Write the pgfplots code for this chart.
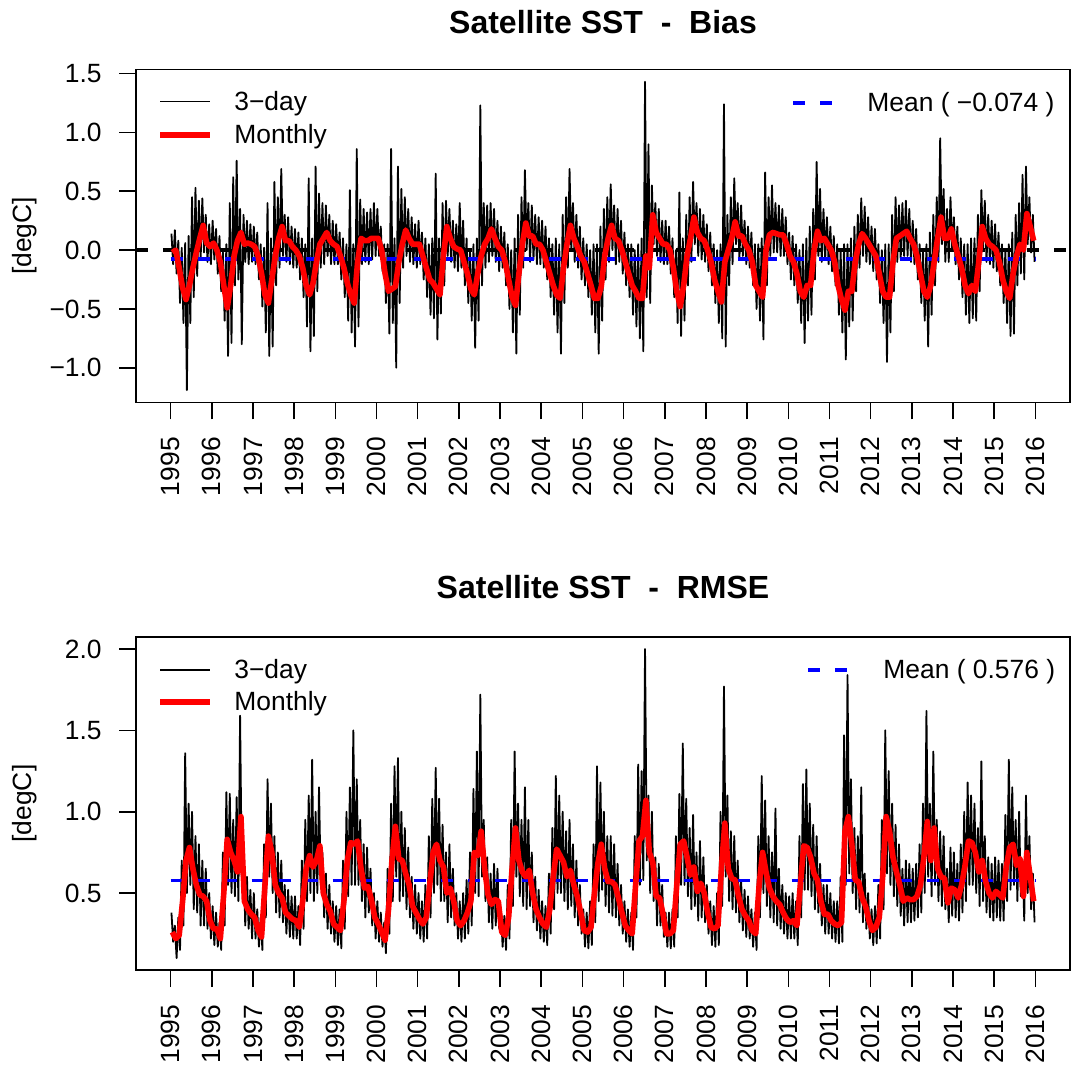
\documentclass[border=0pt]{standalone}
\usepackage{fontspec}
\setmainfont{Liberation Sans}
\usepackage{pgfplots}
\usepackage{pgfplotstable}
\pgfplotsset{compat=1.18}
\newcommand\tf{\fontsize{13.2}{15.8}\selectfont}

% Bias, 3-day (two values per month: high, low)
\pgfplotstableread[row sep=\\]{y\\
0.14\\ -0.12\\ 0.17\\ -0.20\\ 0.08\\ -0.45\\ 0.02\\ -0.62\\ 0.06\\ -1.19\\ 0.12\\ -0.62\\ 0.45\\ -0.40\\ 0.53\\ -0.22\\ 0.42\\ -0.08\\ 0.44\\ -0.02\\ 0.30\\ -0.10\\ 0.22\\ -0.12\\
0.25\\ -0.08\\ 0.18\\ -0.20\\ 0.12\\ -0.35\\ -0.02\\ -0.60\\ 0.05\\ -0.90\\ 0.40\\ -0.79\\ 0.62\\ -0.30\\ 0.76\\ -0.25\\ 0.35\\ -0.80\\ 0.30\\ -0.10\\ 0.25\\ -0.12\\ 0.22\\ -0.10\\
0.20\\ -0.12\\ 0.15\\ -0.25\\ 0.05\\ -0.48\\ 0.02\\ -0.70\\ 0.40\\ -0.90\\ 0.10\\ -0.82\\ 0.58\\ -0.30\\ 0.45\\ -0.15\\ 0.69\\ -0.05\\ 0.30\\ -0.10\\ 0.28\\ -0.12\\ 0.20\\ -0.15\\
0.18\\ -0.15\\ 0.15\\ -0.25\\ 0.10\\ -0.40\\ 0.05\\ -0.65\\ 0.61\\ -0.86\\ 0.10\\ -0.73\\ 0.71\\ -0.35\\ 0.48\\ -0.15\\ 0.40\\ -0.12\\ 0.38\\ -0.05\\ 0.30\\ -0.12\\ 0.25\\ -0.12\\
0.22\\ -0.12\\ 0.15\\ -0.25\\ 0.10\\ -0.40\\ 0.05\\ -0.60\\ 0.51\\ -0.70\\ 0.05\\ -0.82\\ 0.86\\ -0.65\\ 0.43\\ -0.12\\ 0.35\\ -0.10\\ 0.32\\ -0.12\\ 0.35\\ -0.08\\ 0.40\\ -0.05\\
0.35\\ -0.05\\ 0.20\\ -0.18\\ 0.05\\ -0.45\\ 0.05\\ -0.71\\ 0.86\\ -0.62\\ 0.10\\ -1.00\\ 0.71\\ -0.45\\ 0.52\\ -0.15\\ 0.45\\ -0.05\\ 0.35\\ -0.10\\ 0.28\\ -0.12\\ 0.22\\ -0.15\\
0.25\\ -0.12\\ 0.15\\ -0.25\\ 0.10\\ -0.40\\ 0.05\\ -0.55\\ 0.10\\ -0.58\\ 0.65\\ -0.76\\ 0.10\\ -0.54\\ 0.40\\ -0.30\\ 0.42\\ -0.05\\ 0.35\\ -0.10\\ 0.25\\ -0.15\\ 0.22\\ -0.18\\
0.40\\ -0.15\\ 0.25\\ -0.30\\ 0.10\\ -0.45\\ 0.00\\ -0.60\\ 0.05\\ -0.83\\ 0.10\\ -0.60\\ 1.23\\ -0.30\\ 0.40\\ -0.15\\ 0.38\\ -0.10\\ 0.40\\ -0.05\\ 0.35\\ -0.10\\ 0.25\\ -0.18\\
0.20\\ -0.15\\ 0.15\\ -0.30\\ 0.05\\ -0.50\\ 0.00\\ -0.70\\ 0.10\\ -0.88\\ 0.30\\ -0.55\\ 0.45\\ -0.15\\ 0.68\\ 0.00\\ 0.40\\ -0.10\\ 0.38\\ -0.08\\ 0.30\\ -0.12\\ 0.28\\ -0.12\\
0.25\\ -0.15\\ 0.20\\ -0.25\\ 0.10\\ -0.40\\ 0.05\\ -0.55\\ 0.10\\ -0.70\\ 0.05\\ -0.88\\ 0.30\\ -0.45\\ 0.45\\ -0.15\\ 0.69\\ 0.00\\ 0.40\\ -0.10\\ 0.30\\ -0.15\\ 0.20\\ -0.25\\
0.10\\ -0.30\\ 0.05\\ -0.40\\ 0.00\\ -0.55\\ 0.05\\ -0.70\\ 0.05\\ -0.88\\ 0.20\\ -0.60\\ 0.35\\ -0.25\\ 0.45\\ -0.10\\ 0.56\\ 0.00\\ 0.38\\ -0.12\\ 0.35\\ -0.10\\ 0.25\\ -0.20\\
0.15\\ -0.30\\ 0.05\\ -0.40\\ 0.05\\ -0.55\\ 0.00\\ -0.65\\ 0.05\\ -0.75\\ 0.10\\ -0.86\\ 1.43\\ -0.40\\ 0.90\\ -0.45\\ 0.55\\ 0.05\\ 0.40\\ -0.05\\ 0.35\\ -0.10\\ 0.25\\ -0.12\\
0.25\\ -0.12\\ 0.20\\ -0.20\\ 0.10\\ -0.40\\ 0.00\\ -0.62\\ 0.49\\ -0.73\\ 0.10\\ -0.60\\ 0.30\\ -0.30\\ 0.45\\ -0.10\\ 0.58\\ 0.05\\ 0.40\\ -0.05\\ 0.35\\ -0.08\\ 0.30\\ -0.10\\
0.22\\ -0.18\\ 0.15\\ -0.30\\ 0.05\\ -0.45\\ 0.00\\ -0.62\\ 0.05\\ -0.75\\ 1.24\\ -0.82\\ 0.30\\ -0.30\\ 0.45\\ -0.12\\ 0.61\\ 0.05\\ 0.40\\ -0.08\\ 0.38\\ -0.05\\ 0.25\\ -0.12\\
0.20\\ -0.15\\ 0.15\\ -0.30\\ 0.05\\ -0.50\\ 0.05\\ -0.60\\ 0.10\\ -0.76\\ 0.66\\ -0.30\\ 0.45\\ -0.05\\ 0.55\\ -0.02\\ 0.40\\ -0.02\\ 0.38\\ -0.05\\ 0.35\\ -0.05\\ 0.28\\ -0.12\\
0.15\\ -0.25\\ 0.12\\ -0.30\\ 0.05\\ -0.45\\ 0.00\\ -0.62\\ 0.05\\ -0.79\\ 0.10\\ -0.60\\ 0.20\\ -0.55\\ 0.35\\ -0.25\\ 0.75\\ -0.05\\ 0.52\\ -0.10\\ 0.35\\ -0.08\\ 0.28\\ -0.12\\
0.20\\ -0.18\\ 0.12\\ -0.30\\ 0.05\\ -0.55\\ 0.00\\ -0.70\\ 0.05\\ -0.93\\ 0.05\\ -0.65\\ 0.10\\ -0.60\\ 0.20\\ -0.35\\ 0.30\\ -0.15\\ 0.44\\ -0.05\\ 0.37\\ -0.10\\ 0.28\\ -0.12\\
0.20\\ -0.18\\ 0.18\\ -0.25\\ 0.05\\ -0.45\\ 0.00\\ -0.62\\ 0.05\\ -0.95\\ 0.05\\ -0.70\\ 0.30\\ -0.35\\ 0.45\\ -0.10\\ 0.38\\ -0.08\\ 0.40\\ -0.05\\ 0.42\\ -0.05\\ 0.35\\ -0.10\\
0.25\\ -0.12\\ 0.18\\ -0.25\\ 0.05\\ -0.45\\ 0.00\\ -0.60\\ 0.05\\ -0.82\\ 0.15\\ -0.55\\ 0.30\\ -0.30\\ 0.45\\ -0.10\\ 0.95\\ 0.05\\ 0.52\\ -0.10\\ 0.35\\ -0.10\\ 0.45\\ 0.00\\
0.28\\ -0.12\\ 0.20\\ -0.25\\ 0.10\\ -0.40\\ 0.05\\ -0.55\\ 0.05\\ -0.62\\ 0.10\\ -0.58\\ 0.10\\ -0.60\\ 0.30\\ -0.35\\ 0.51\\ 0.00\\ 0.42\\ -0.10\\ 0.30\\ -0.12\\ 0.25\\ -0.15\\
0.22\\ -0.18\\ 0.15\\ -0.30\\ 0.05\\ -0.45\\ 0.00\\ -0.62\\ 0.05\\ -0.73\\ 0.15\\ -0.71\\ 0.30\\ -0.30\\ 0.40\\ -0.20\\ 0.64\\ -0.25\\ 0.71\\ 0.05\\ 0.45\\ -0.02\\ 0.30\\ -0.10\\
}\biasday

% Bias, monthly
\pgfplotstableread[row sep=\\]{y\\
-0.02\\ 0.00\\ -0.15\\ -0.32\\ -0.42\\ -0.30\\ -0.15\\ -0.02\\ 0.10\\ 0.21\\ 0.06\\ 0.03\\
0.06\\ 0.00\\ -0.10\\ -0.30\\ -0.49\\ -0.30\\ -0.05\\ 0.08\\ 0.15\\ 0.05\\ 0.06\\ 0.05\\
0.03\\ -0.05\\ -0.20\\ -0.38\\ -0.45\\ -0.25\\ -0.05\\ 0.10\\ 0.20\\ 0.08\\ 0.08\\ 0.03\\
0.00\\ -0.05\\ -0.15\\ -0.30\\ -0.38\\ -0.28\\ -0.10\\ 0.05\\ 0.10\\ 0.15\\ 0.08\\ 0.05\\
0.03\\ -0.05\\ -0.15\\ -0.28\\ -0.38\\ -0.45\\ -0.10\\ 0.10\\ 0.08\\ 0.08\\ 0.10\\ 0.10\\
0.10\\ 0.00\\ -0.20\\ -0.35\\ -0.33\\ -0.31\\ -0.10\\ 0.05\\ 0.17\\ 0.10\\ 0.05\\ 0.05\\
0.05\\ -0.05\\ -0.15\\ -0.25\\ -0.28\\ -0.33\\ -0.38\\ -0.05\\ 0.20\\ 0.10\\ 0.03\\ 0.01\\
0.00\\ -0.10\\ -0.20\\ -0.33\\ -0.38\\ -0.20\\ -0.05\\ 0.05\\ 0.10\\ 0.18\\ 0.10\\ 0.03\\
0.00\\ -0.10\\ -0.25\\ -0.40\\ -0.47\\ -0.20\\ 0.05\\ 0.23\\ 0.12\\ 0.12\\ 0.05\\ 0.05\\
0.00\\ -0.10\\ -0.20\\ -0.30\\ -0.38\\ -0.41\\ -0.15\\ 0.05\\ 0.21\\ 0.10\\ 0.03\\ -0.05\\
-0.10\\ -0.20\\ -0.30\\ -0.41\\ -0.41\\ -0.31\\ -0.05\\ 0.10\\ 0.21\\ 0.10\\ 0.08\\ 0.00\\
-0.10\\ -0.20\\ -0.30\\ -0.35\\ -0.41\\ -0.41\\ -0.05\\ -0.15\\ 0.30\\ 0.15\\ 0.10\\ 0.05\\
0.05\\ 0.00\\ -0.15\\ -0.35\\ -0.48\\ -0.30\\ -0.05\\ 0.10\\ 0.28\\ 0.15\\ 0.10\\ 0.08\\
0.00\\ -0.10\\ -0.25\\ -0.35\\ -0.44\\ -0.10\\ 0.00\\ 0.10\\ 0.24\\ 0.12\\ 0.12\\ 0.05\\
0.00\\ -0.10\\ -0.30\\ -0.35\\ -0.40\\ 0.00\\ 0.13\\ 0.15\\ 0.14\\ 0.13\\ 0.13\\ 0.05\\
-0.05\\ -0.10\\ -0.20\\ -0.35\\ -0.40\\ -0.30\\ -0.30\\ 0.00\\ 0.16\\ 0.08\\ 0.10\\ 0.05\\
0.00\\ -0.10\\ -0.30\\ -0.42\\ -0.51\\ -0.35\\ -0.35\\ -0.10\\ 0.05\\ 0.14\\ 0.10\\ 0.05\\
0.00\\ -0.05\\ -0.20\\ -0.35\\ -0.40\\ -0.40\\ -0.10\\ 0.10\\ 0.12\\ 0.14\\ 0.16\\ 0.10\\
0.05\\ -0.05\\ -0.20\\ -0.35\\ -0.40\\ -0.30\\ -0.10\\ 0.10\\ 0.28\\ 0.10\\ 0.10\\ 0.18\\
0.05\\ -0.05\\ -0.15\\ -0.30\\ -0.37\\ -0.30\\ -0.35\\ -0.10\\ 0.20\\ 0.10\\ 0.05\\ 0.03\\
0.00\\ -0.10\\ -0.25\\ -0.35\\ -0.41\\ -0.20\\ -0.05\\ 0.05\\ 0.00\\ 0.31\\ 0.20\\ 0.08\\
}\biasmon

% RMSE, 3-day (two values per month: high, low)
\pgfplotstableread[row sep=\\]{y\\
0.38\\ 0.20\\ 0.30\\ 0.10\\ 0.35\\ 0.15\\ 0.70\\ 0.30\\ 1.36\\ 0.50\\ 1.05\\ 0.55\\ 1.00\\ 0.40\\ 0.85\\ 0.38\\ 0.80\\ 0.30\\ 0.70\\ 0.30\\ 0.65\\ 0.28\\ 0.50\\ 0.22\\
0.42\\ 0.18\\ 0.38\\ 0.17\\ 0.32\\ 0.15\\ 0.75\\ 0.30\\ 1.12\\ 0.55\\ 1.11\\ 0.50\\ 0.95\\ 0.48\\ 1.09\\ 0.45\\ 1.59\\ 0.60\\ 0.75\\ 0.30\\ 0.60\\ 0.28\\ 0.52\\ 0.22\\
0.50\\ 0.22\\ 0.40\\ 0.17\\ 0.35\\ 0.15\\ 0.80\\ 0.35\\ 1.20\\ 0.60\\ 1.05\\ 0.50\\ 0.85\\ 0.38\\ 0.75\\ 0.35\\ 0.70\\ 0.32\\ 0.55\\ 0.25\\ 0.52\\ 0.23\\ 0.48\\ 0.22\\
0.48\\ 0.22\\ 0.42\\ 0.18\\ 0.70\\ 0.28\\ 0.95\\ 0.45\\ 1.10\\ 0.50\\ 1.32\\ 0.45\\ 1.00\\ 0.50\\ 1.15\\ 0.55\\ 0.75\\ 0.35\\ 0.62\\ 0.28\\ 0.55\\ 0.25\\ 0.45\\ 0.20\\
0.42\\ 0.18\\ 0.40\\ 0.16\\ 0.70\\ 0.28\\ 1.00\\ 0.48\\ 1.15\\ 0.55\\ 1.50\\ 0.55\\ 1.20\\ 0.55\\ 0.95\\ 0.45\\ 0.80\\ 0.35\\ 0.78\\ 0.38\\ 0.65\\ 0.30\\ 0.50\\ 0.22\\
0.45\\ 0.20\\ 0.38\\ 0.17\\ 0.32\\ 0.13\\ 0.65\\ 0.25\\ 1.05\\ 0.45\\ 1.28\\ 0.60\\ 1.33\\ 0.45\\ 1.00\\ 0.48\\ 0.90\\ 0.40\\ 0.78\\ 0.35\\ 0.60\\ 0.28\\ 0.55\\ 0.25\\
0.50\\ 0.22\\ 0.45\\ 0.20\\ 0.55\\ 0.22\\ 0.85\\ 0.35\\ 1.08\\ 0.50\\ 1.27\\ 0.55\\ 1.08\\ 0.45\\ 0.92\\ 0.45\\ 0.75\\ 0.32\\ 0.80\\ 0.35\\ 0.65\\ 0.30\\ 0.50\\ 0.22\\
0.45\\ 0.20\\ 0.50\\ 0.22\\ 0.58\\ 0.25\\ 0.75\\ 0.30\\ 1.14\\ 0.50\\ 1.37\\ 0.48\\ 1.72\\ 0.60\\ 0.95\\ 0.45\\ 0.72\\ 0.32\\ 0.62\\ 0.28\\ 0.68\\ 0.30\\ 0.65\\ 0.28\\
0.40\\ 0.17\\ 0.36\\ 0.15\\ 0.55\\ 0.22\\ 0.95\\ 0.42\\ 1.37\\ 0.60\\ 1.05\\ 0.48\\ 0.95\\ 0.42\\ 1.15\\ 0.40\\ 0.95\\ 0.42\\ 0.75\\ 0.32\\ 0.60\\ 0.27\\ 0.52\\ 0.22\\
0.45\\ 0.20\\ 0.42\\ 0.18\\ 0.62\\ 0.25\\ 0.90\\ 0.40\\ 1.22\\ 0.50\\ 1.10\\ 0.50\\ 1.00\\ 0.45\\ 0.88\\ 0.40\\ 0.95\\ 0.42\\ 0.80\\ 0.35\\ 0.70\\ 0.30\\ 0.55\\ 0.25\\
0.40\\ 0.17\\ 0.38\\ 0.16\\ 0.45\\ 0.18\\ 0.80\\ 0.32\\ 1.28\\ 0.45\\ 1.18\\ 0.52\\ 1.00\\ 0.42\\ 0.85\\ 0.38\\ 0.85\\ 0.36\\ 0.80\\ 0.35\\ 0.68\\ 0.30\\ 0.55\\ 0.25\\
0.45\\ 0.20\\ 0.40\\ 0.17\\ 0.38\\ 0.15\\ 0.85\\ 0.35\\ 1.29\\ 0.55\\ 1.25\\ 0.58\\ 2.00\\ 0.70\\ 1.10\\ 0.50\\ 1.00\\ 0.45\\ 0.72\\ 0.30\\ 0.68\\ 0.30\\ 0.55\\ 0.23\\
0.38\\ 0.17\\ 0.38\\ 0.16\\ 0.40\\ 0.17\\ 0.85\\ 0.35\\ 1.11\\ 0.55\\ 1.42\\ 0.55\\ 1.08\\ 0.48\\ 0.90\\ 0.40\\ 0.98\\ 0.42\\ 0.75\\ 0.33\\ 0.82\\ 0.35\\ 0.72\\ 0.32\\
0.55\\ 0.25\\ 0.45\\ 0.18\\ 0.42\\ 0.17\\ 0.50\\ 0.18\\ 1.00\\ 0.42\\ 1.77\\ 0.60\\ 1.10\\ 0.45\\ 0.88\\ 0.40\\ 0.85\\ 0.38\\ 0.70\\ 0.32\\ 0.58\\ 0.27\\ 0.52\\ 0.23\\
0.48\\ 0.22\\ 0.40\\ 0.17\\ 0.38\\ 0.15\\ 0.85\\ 0.35\\ 1.22\\ 0.50\\ 1.07\\ 0.42\\ 0.85\\ 0.35\\ 0.75\\ 0.32\\ 1.02\\ 0.30\\ 0.65\\ 0.28\\ 0.55\\ 0.25\\ 0.50\\ 0.22\\
0.48\\ 0.22\\ 0.50\\ 0.22\\ 0.45\\ 0.18\\ 0.85\\ 0.35\\ 1.17\\ 0.52\\ 1.26\\ 0.52\\ 1.05\\ 0.48\\ 0.92\\ 0.40\\ 0.85\\ 0.38\\ 0.68\\ 0.30\\ 0.55\\ 0.25\\ 0.55\\ 0.25\\
0.50\\ 0.22\\ 0.45\\ 0.20\\ 0.45\\ 0.19\\ 0.60\\ 0.20\\ 1.47\\ 0.55\\ 1.84\\ 0.62\\ 1.20\\ 0.50\\ 0.90\\ 0.40\\ 0.85\\ 0.38\\ 1.15\\ 0.32\\ 0.62\\ 0.28\\ 0.50\\ 0.22\\
0.40\\ 0.18\\ 0.42\\ 0.19\\ 0.55\\ 0.22\\ 0.95\\ 0.40\\ 1.50\\ 0.62\\ 1.25\\ 0.55\\ 1.05\\ 0.48\\ 0.92\\ 0.42\\ 0.80\\ 0.36\\ 0.65\\ 0.30\\ 0.70\\ 0.32\\ 0.68\\ 0.32\\
0.65\\ 0.33\\ 0.68\\ 0.35\\ 0.80\\ 0.38\\ 1.05\\ 0.50\\ 1.62\\ 0.60\\ 1.05\\ 0.48\\ 1.37\\ 0.55\\ 0.95\\ 0.45\\ 0.88\\ 0.42\\ 0.85\\ 0.40\\ 0.65\\ 0.32\\ 0.78\\ 0.36\\
0.75\\ 0.35\\ 0.68\\ 0.33\\ 0.80\\ 0.38\\ 1.00\\ 0.45\\ 1.18\\ 0.55\\ 1.10\\ 0.55\\ 1.05\\ 0.50\\ 0.90\\ 0.42\\ 1.31\\ 0.45\\ 0.85\\ 0.38\\ 0.72\\ 0.35\\ 0.68\\ 0.33\\
0.72\\ 0.35\\ 0.70\\ 0.33\\ 0.68\\ 0.33\\ 0.98\\ 0.45\\ 1.32\\ 0.52\\ 1.15\\ 0.55\\ 0.95\\ 0.45\\ 1.00\\ 0.48\\ 0.70\\ 0.33\\ 1.10\\ 0.50\\ 0.85\\ 0.40\\ 0.62\\ 0.32\\
}\rmseday

% RMSE, monthly
\pgfplotstableread[row sep=\\]{y\\
0.26\\ 0.22\\ 0.24\\ 0.45\\ 0.70\\ 0.78\\ 0.65\\ 0.55\\ 0.49\\ 0.48\\ 0.45\\ 0.33\\
0.28\\ 0.28\\ 0.22\\ 0.50\\ 0.83\\ 0.75\\ 0.70\\ 0.63\\ 0.97\\ 0.45\\ 0.40\\ 0.37\\
0.35\\ 0.27\\ 0.23\\ 0.55\\ 0.85\\ 0.75\\ 0.55\\ 0.50\\ 0.47\\ 0.38\\ 0.36\\ 0.34\\
0.33\\ 0.29\\ 0.45\\ 0.65\\ 0.73\\ 0.66\\ 0.70\\ 0.79\\ 0.50\\ 0.43\\ 0.39\\ 0.31\\
0.29\\ 0.27\\ 0.45\\ 0.70\\ 0.81\\ 0.80\\ 0.82\\ 0.65\\ 0.53\\ 0.54\\ 0.46\\ 0.35\\
0.31\\ 0.26\\ 0.21\\ 0.40\\ 0.70\\ 0.91\\ 0.71\\ 0.70\\ 0.62\\ 0.55\\ 0.42\\ 0.38\\
0.34\\ 0.31\\ 0.35\\ 0.55\\ 0.75\\ 0.80\\ 0.70\\ 0.66\\ 0.50\\ 0.53\\ 0.45\\ 0.33\\
0.30\\ 0.33\\ 0.38\\ 0.45\\ 0.75\\ 0.73\\ 0.88\\ 0.65\\ 0.49\\ 0.43\\ 0.46\\ 0.45\\
0.26\\ 0.24\\ 0.35\\ 0.65\\ 0.90\\ 0.70\\ 0.63\\ 0.60\\ 0.64\\ 0.50\\ 0.40\\ 0.35\\
0.31\\ 0.29\\ 0.40\\ 0.60\\ 0.77\\ 0.73\\ 0.69\\ 0.60\\ 0.64\\ 0.55\\ 0.48\\ 0.38\\
0.27\\ 0.26\\ 0.29\\ 0.50\\ 0.68\\ 0.80\\ 0.65\\ 0.57\\ 0.57\\ 0.55\\ 0.47\\ 0.38\\
0.30\\ 0.27\\ 0.25\\ 0.55\\ 0.82\\ 0.85\\ 1.07\\ 0.75\\ 0.69\\ 0.48\\ 0.47\\ 0.37\\
0.25\\ 0.25\\ 0.27\\ 0.55\\ 0.80\\ 0.82\\ 0.72\\ 0.61\\ 0.66\\ 0.51\\ 0.56\\ 0.50\\
0.38\\ 0.29\\ 0.28\\ 0.30\\ 0.65\\ 0.93\\ 0.65\\ 0.59\\ 0.58\\ 0.48\\ 0.40\\ 0.36\\
0.33\\ 0.27\\ 0.25\\ 0.55\\ 0.75\\ 0.63\\ 0.53\\ 0.48\\ 0.45\\ 0.43\\ 0.38\\ 0.34\\
0.32\\ 0.33\\ 0.30\\ 0.55\\ 0.79\\ 0.78\\ 0.72\\ 0.62\\ 0.58\\ 0.45\\ 0.37\\ 0.37\\
0.33\\ 0.31\\ 0.30\\ 0.32\\ 0.88\\ 0.97\\ 0.80\\ 0.58\\ 0.57\\ 0.47\\ 0.42\\ 0.33\\
0.27\\ 0.29\\ 0.35\\ 0.60\\ 0.97\\ 0.88\\ 0.72\\ 0.63\\ 0.55\\ 0.45\\ 0.47\\ 0.46\\
0.46\\ 0.48\\ 0.55\\ 0.72\\ 0.94\\ 0.70\\ 0.90\\ 0.65\\ 0.60\\ 0.59\\ 0.44\\ 0.53\\
0.52\\ 0.47\\ 0.55\\ 0.67\\ 0.82\\ 0.81\\ 0.75\\ 0.63\\ 0.70\\ 0.57\\ 0.50\\ 0.47\\
0.51\\ 0.49\\ 0.47\\ 0.66\\ 0.78\\ 0.80\\ 0.67\\ 0.71\\ 0.48\\ 0.75\\ 0.60\\ 0.45\\
}\rmsemon

\pgfplotsset{
  panel/.style={
    scale only axis, width=467pt, height=166.5pt,
    xmin=1994.16, xmax=2016.84,
    axis line style={line width=0.8pt},
    every tick/.style={black, line width=0.8pt},
    tick align=outside, major tick length=8.5pt,
    xtick pos=bottom, ytick pos=left,
    xtick={1995,1996,1997,1998,1999,2000,2001,2002,2003,2004,2005,2006,2007,2008,2009,2010,2011,2012,2013,2014,2015,2016},
    xticklabels={1995,1996,1997,1998,1999,2000,2001,2002,2003,2004,2005,2006,2007,2008,2009,2010,2011,2012,2013,2014,2015,2016},
    xticklabel style={rotate=90, anchor=east, inner sep=0pt, font=\tf},
    yticklabel style={anchor=east, inner sep=0pt, font=\tf},
    xticklabel shift=8.7pt, yticklabel shift=8.5pt,
  },
  day/.style={black, line width=0.9pt, line join=round},
  mon/.style={red, line width=2.8pt, line join=round},
  meanl/.style={blue, line width=1.8pt, dash pattern=on 6.2pt off 7.3pt},
}

\begin{document}
\begin{tikzpicture}
% ---------------- Bias ----------------
\begin{axis}[panel, name=top, at={(0,0)}, anchor=north west,
  ymin=-1.295, ymax=1.535,
  ytick={-1,-0.5,0,0.5,1,1.5},
  yticklabels={−1.0,−0.5,0.0,0.5,1.0,1.5}]
\addplot[black, line width=1.8pt, dash pattern=on 6.2pt off 7.3pt] coordinates {(1994.16,0) (2016.84,0)};
\addplot[day] table[x expr={1995+(\coordindex+0.5)/24}, y=y] {\biasday};
\addplot[meanl] coordinates {(1995,-0.074) (2016,-0.074)};
\addplot[mon] table[x expr={1995+(\coordindex+0.5)/12}, y=y] {\biasmon};
\end{axis}
\node[font=\bfseries\fontsize{16}{19}\selectfont] at ([yshift=23.5pt]top.north) {Satellite SST\ \ -\ \ Bias};
\node[font=\tf, rotate=90] at ([xshift=-55.5pt]top.west) {[degC]};
\draw[black, line width=0.7pt] ([shift={(12pt,-16.1pt)}]top.north west) -- ++(25pt,0);
\node[font=\tf, anchor=west, inner sep=0pt] at ([shift={(49pt,-17pt)}]top.north west) {3−day};
\draw[red, line width=2.8pt] ([shift={(12pt,-32.75pt)}]top.north west) -- ++(25pt,0);
\node[font=\tf, anchor=west, inner sep=0pt] at ([shift={(49pt,-33.6pt)}]top.north west) {Monthly};
\draw[blue, line width=1.8pt, dash pattern=on 6pt off 7.5pt] ([shift={(328.5pt,-16.75pt)}]top.north west) -- ++(19.5pt,0);
\node[font=\tf, anchor=west, inner sep=0pt] at ([shift={(365.5pt,-17.5pt)}]top.north west) {Mean ( −0.074 )};

% ---------------- RMSE ----------------
\begin{axis}[panel, name=bot, at={(0,-283.75pt)}, anchor=north west,
  ymin=0.027, ymax=2.074,
  ytick={0.5,1,1.5,2},
  yticklabels={0.5,1.0,1.5,2.0}]
\addplot[day] table[x expr={1995+(\coordindex+0.5)/24}, y=y] {\rmseday};
\addplot[meanl] coordinates {(1995,0.576) (2016,0.576)};
\addplot[mon] table[x expr={1995+(\coordindex+0.5)/12}, y=y] {\rmsemon};
\end{axis}
\node[font=\bfseries\fontsize{16}{19}\selectfont] at ([yshift=25pt]bot.north) {Satellite SST\ \ -\ \ RMSE};
\node[font=\tf, rotate=90] at ([xshift=-55.5pt]bot.west) {[degC]};
\draw[black, line width=0.7pt] ([shift={(12pt,-16.5pt)}]bot.north west) -- ++(25pt,0);
\node[font=\tf, anchor=west, inner sep=0pt] at ([shift={(49pt,-17.3pt)}]bot.north west) {3−day};
\draw[red, line width=2.8pt] ([shift={(12pt,-32.5pt)}]bot.north west) -- ++(25pt,0);
\node[font=\tf, anchor=west, inner sep=0pt] at ([shift={(49pt,-33.3pt)}]bot.north west) {Monthly};
\draw[blue, line width=1.8pt, dash pattern=on 6pt off 7.5pt] ([shift={(336pt,-16.5pt)}]bot.north west) -- ++(19.5pt,0);
\node[font=\tf, anchor=west, inner sep=0pt] at ([shift={(373.5pt,-17.3pt)}]bot.north west) {Mean ( 0.576 )};

\pgfresetboundingbox
\path[use as bounding box] (-68pt,34.75pt) rectangle (469.5pt,-499.25pt);
\end{tikzpicture}
\end{document}
